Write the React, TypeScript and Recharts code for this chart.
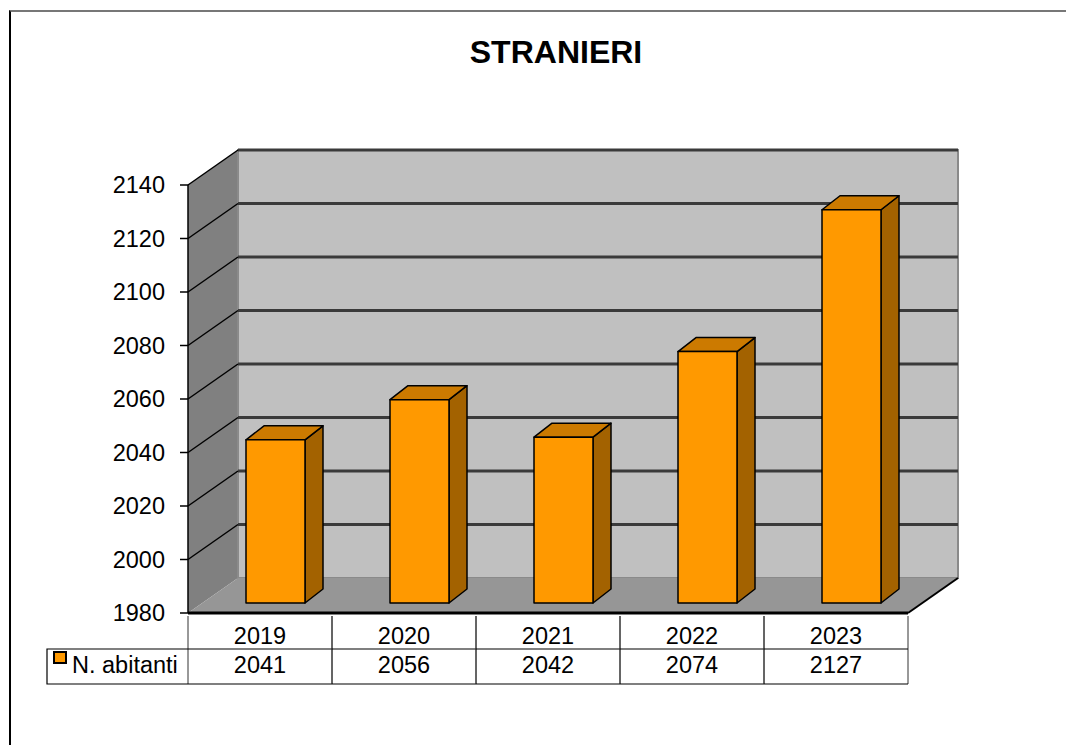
import { BarChart, Bar, XAxis, YAxis, CartesianGrid, ReferenceArea } from 'recharts'

const years = ['2019', '2020', '2021', '2022', '2023']
const abitanti = [2041, 2056, 2042, 2074, 2127]
const yTicks = [1980, 2000, 2020, 2040, 2060, 2080, 2100, 2120, 2140]
const seriesName = 'N. abitanti'

const data = years.map((year, i) => ({ year, abitanti: abitanti[i] }))

// depth of the 3d box (back wall offset) and bar placement inside it
const DEPTH_X = 50
const DEPTH_Y = 35
const BAR_DX = 15
const BAR_DY = -10
const BAR_DEPTH_X = 18
const BAR_DEPTH_Y = 14
const HALF_CELL = 72
const FONT = '"Liberation Sans", Arial, sans-serif'

function Walls(props: any) {
  const { x, y, width: w, height: h } = props
  const bottom = y + h
  return (
    <g>
      <polygon
        points={`${x},${bottom} ${x},${y} ${x + DEPTH_X},${y - DEPTH_Y} ${x + DEPTH_X},${bottom - DEPTH_Y}`}
        fill="#808080"
      />
      <rect x={x + DEPTH_X} y={y - DEPTH_Y} width={w} height={h} fill="#c0c0c0" stroke="#8a8a8a" strokeWidth={2} />
      <polygon
        points={`${x},${bottom} ${x + w},${bottom} ${x + w + DEPTH_X},${bottom - DEPTH_Y} ${x + DEPTH_X},${bottom - DEPTH_Y}`}
        fill="#969696"
      />
      <line x1={x + w} y1={bottom} x2={x + w + DEPTH_X} y2={bottom - DEPTH_Y} stroke="#000" strokeWidth={2} />
    </g>
  )
}

function GridLine(props: any) {
  const { x1, y1, x2, y2, y, height, index } = props
  if (Math.abs(y1 - (y + height)) < 1) return <g key={`g-${index}`} />
  return (
    <g key={`g-${index}`}>
      <line x1={x1 + DEPTH_X} y1={y1 - DEPTH_Y} x2={x2 + DEPTH_X} y2={y2 - DEPTH_Y} stroke="#3a3a3a" strokeWidth={3} />
      <line x1={x1} y1={y1} x2={x1 + DEPTH_X} y2={y1 - DEPTH_Y} stroke="#000" strokeWidth={1.5} />
    </g>
  )
}

function Box3D(props: any) {
  const { x, y, width: w, height: h } = props
  const bx = x + BAR_DX
  const by = y + BAR_DY
  const bb = by + h
  return (
    <g stroke="#000" strokeWidth={1.5} strokeLinejoin="round">
      <polygon
        points={`${bx + w},${by} ${bx + w + BAR_DEPTH_X},${by - BAR_DEPTH_Y} ${bx + w + BAR_DEPTH_X},${bb - BAR_DEPTH_Y} ${bx + w},${bb}`}
        fill="#a36200"
      />
      <polygon
        points={`${bx},${by} ${bx + w},${by} ${bx + w + BAR_DEPTH_X},${by - BAR_DEPTH_Y} ${bx + BAR_DEPTH_X},${by - BAR_DEPTH_Y}`}
        fill="#cc7a00"
      />
      <rect x={bx} y={by} width={w} height={h} fill="#ff9900" />
    </g>
  )
}

function TableTick(props: any) {
  const { x, y, payload } = props
  const i = payload.index
  const left = x - HALF_CELL
  const right = x + HALF_CELL
  return (
    <g fontFamily={FONT} fontSize={23.5} fill="#000">
      <line x1={left} y1={y + 3} x2={left} y2={y + 71} stroke="#333" strokeWidth={1} />
      <line x1={right} y1={y + 3} x2={right} y2={y + 71} stroke="#333" strokeWidth={1} />
      <line x1={left} y1={y + 36} x2={right} y2={y + 36} stroke="#000" strokeWidth={1.2} />
      <line x1={left} y1={y + 71} x2={right} y2={y + 71} stroke="#000" strokeWidth={1.2} />
      <text x={x} y={y + 31} textAnchor="middle" stroke="none">{payload.value}</text>
      <text x={x} y={y + 60} textAnchor="middle" stroke="none">{abitanti[i]}</text>
      {i === 0 && (
        <g>
          <polyline
            points={`${left},${y + 36} ${left - 141},${y + 36} ${left - 141},${y + 71} ${left},${y + 71}`}
            fill="none"
            stroke="#000"
            strokeWidth={1.2}
          />
          <rect x={left - 134} y={y + 39} width={12} height={11} fill="#ff9900" stroke="#000" strokeWidth={2} />
          <text x={left - 116} y={y + 60} stroke="none">{seriesName}</text>
        </g>
      )}
    </g>
  )
}

export default function App() {
  return (
    <div style={{ position: 'absolute', left: 0, top: 0, width: 1066, height: 745, background: '#fff', overflow: 'hidden' }}>
      <div
        style={{
          position: 'absolute',
          left: 9,
          top: 10,
          width: 1100,
          height: 800,
          borderLeft: '2px solid #000',
          borderTop: '2px solid #777',
        }}
      />
      <div
        style={{
          position: 'absolute',
          left: 0,
          top: 36,
          width: 1112,
          textAlign: 'center',
          fontFamily: FONT,
          fontWeight: 'bold',
          fontSize: 32,
          lineHeight: 1,
        }}
      >
        STRANIERI
      </div>
      <div style={{ position: 'absolute', left: 0, top: 0 }}>
        <BarChart width={1066} height={745} data={data} margin={{ top: 185, right: 158, bottom: 62, left: 128 }} barSize={59}>
          <ReferenceArea y1={1980} y2={2140} shape={Walls} zIndex={-200} ifOverflow="visible" />
          <CartesianGrid vertical={false} horizontal={GridLine} />
          <XAxis
            dataKey="year"
            height={70}
            axisLine={{ stroke: '#000', strokeWidth: 3 }}
            tickLine={false}
            tickSize={0}
            tickMargin={0}
            interval={0}
            tick={TableTick}
          />
          <YAxis
            width={60}
            domain={[1980, 2140]}
            ticks={yTicks}
            interval={0}
            allowDataOverflow
            axisLine={{ stroke: '#000', strokeWidth: 1.5 }}
            tickLine={{ stroke: '#000', strokeWidth: 1.5 }}
            tickSize={8}
            tickMargin={15}
            tick={{ fill: '#000', fontSize: 23.5, fontFamily: FONT }}
          />
          <Bar dataKey="abitanti" name={seriesName} shape={Box3D} isAnimationActive={false} />
        </BarChart>
      </div>
    </div>
  )
}
